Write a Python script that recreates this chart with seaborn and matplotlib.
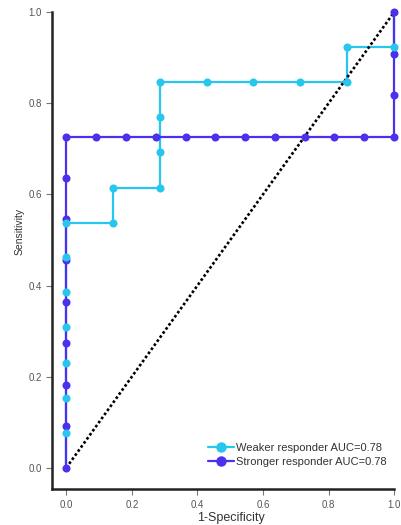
import matplotlib
matplotlib.use("Agg")
import matplotlib.pyplot as plt
from matplotlib.lines import Line2D
import pandas as pd
import seaborn as sns

# ROC points
weak_fpr = [0, 0, 0, 0, 0, 0, 0, 0, 0.143, 0.143, 0.286, 0.286, 0.286, 0.286,
            0.429, 0.571, 0.714, 0.857, 0.857, 1.0, 1.0]
weak_tpr = [0, 0.077, 0.154, 0.231, 0.308, 0.385, 0.462, 0.538, 0.538, 0.615,
            0.615, 0.692, 0.769, 0.846, 0.846, 0.846, 0.846, 0.846, 0.923, 0.923, 1.0]

strong_fpr = [0, 0, 0, 0, 0, 0, 0, 0, 0, 0.091, 0.182, 0.273, 0.364, 0.455,
              0.545, 0.636, 0.727, 0.818, 0.909, 1.0, 1.0, 1.0, 1.0]
strong_tpr = [0, 0.091, 0.182, 0.273, 0.364, 0.455, 0.545, 0.636, 0.727, 0.727,
              0.727, 0.727, 0.727, 0.727, 0.727, 0.727, 0.727, 0.727, 0.727, 0.727,
              0.818, 0.909, 1.0]

weak_label = "Weaker responder AUC=0.78"
strong_label = "Stronger responder AUC=0.78"
weak_color = "#27C6EE"
strong_color = "#4B30EE"

sns.set_style("white")
plt.rcParams["font.family"] = ["Liberation Sans", "DejaVu Sans"]

fig = plt.figure(figsize=(4.01, 5.25), dpi=100)
ax = fig.add_axes([0.130, 0.068, 0.853, 0.909])

weak = pd.DataFrame({"fpr": weak_fpr, "tpr": weak_tpr})
strong = pd.DataFrame({"fpr": strong_fpr, "tpr": strong_tpr})

# lines first (cyan under purple), then markers
sns.lineplot(data=weak, x="fpr", y="tpr", ax=ax, color=weak_color, linewidth=1.6,
             sort=False, estimator=None, clip_on=False, zorder=2)
sns.lineplot(data=strong, x="fpr", y="tpr", ax=ax, color=strong_color, linewidth=1.6,
             sort=False, estimator=None, clip_on=False, zorder=3)

# chance line
diag = pd.DataFrame({"x": [0, 1], "y": [0, 1]})
sns.lineplot(data=diag, x="x", y="y", ax=ax, color="black", linestyle=(0, (1, 0.9)),
             linewidth=1.9, sort=False, estimator=None, zorder=3.5)

sns.lineplot(data=strong, x="fpr", y="tpr", ax=ax, color=strong_color, marker="o",
             markersize=5.8, markeredgewidth=0, linestyle="", sort=False,
             estimator=None, clip_on=False, zorder=4)
sns.lineplot(data=weak.iloc[1:-1], x="fpr", y="tpr", ax=ax, color=weak_color,
             marker="o", markersize=5.8, markeredgewidth=0, linestyle="",
             sort=False, estimator=None, clip_on=False, zorder=5)

ax.set_xlim(-0.043, 1.0)
ax.set_ylim(-0.047, 1.0)
ax.set_xticks([0, 0.2, 0.4, 0.6, 0.8, 1.0])
ax.set_yticks([0, 0.2, 0.4, 0.6, 0.8, 1.0])
ax.set_xticklabels(["0.0", "0.2", "0.4", "0.6", "0.8", "1.0"])
ax.set_yticklabels(["0.0", "0.2", "0.4", "0.6", "0.8", "1.0"])
ax.tick_params(axis="both", direction="out", length=4, width=0.8, color="#777777",
               labelsize=7, labelcolor="#555555", pad=3.5, left=True, bottom=True)

sns.despine(ax=ax)
for side in ["left", "bottom"]:
    ax.spines[side].set_linewidth(1.8)
    ax.spines[side].set_color("#222222")

ax.set_xlabel("1-Specificity", fontsize=9, color="#333333")
ax.set_ylabel("Sensitivity", fontsize=7.5, color="#333333")
ax.xaxis.set_label_coords(0.523, -0.047)
ax.yaxis.set_label_coords(-0.082, 0.54)

handles = [
    Line2D([], [], color=weak_color, marker="o", markersize=7.5, markeredgewidth=0,
           linewidth=1.6),
    Line2D([], [], color=strong_color, marker="o", markersize=7.5, markeredgewidth=0,
           linewidth=1.6),
]
ax.legend(handles, [weak_label, strong_label], loc="lower right",
          bbox_to_anchor=(1.0, 0.03), frameon=False, fontsize=8, handlelength=2.3,
          handletextpad=0.2, labelspacing=0.35, borderpad=0.2, labelcolor="#333333")

fig.savefig("out.png", dpi=100)
